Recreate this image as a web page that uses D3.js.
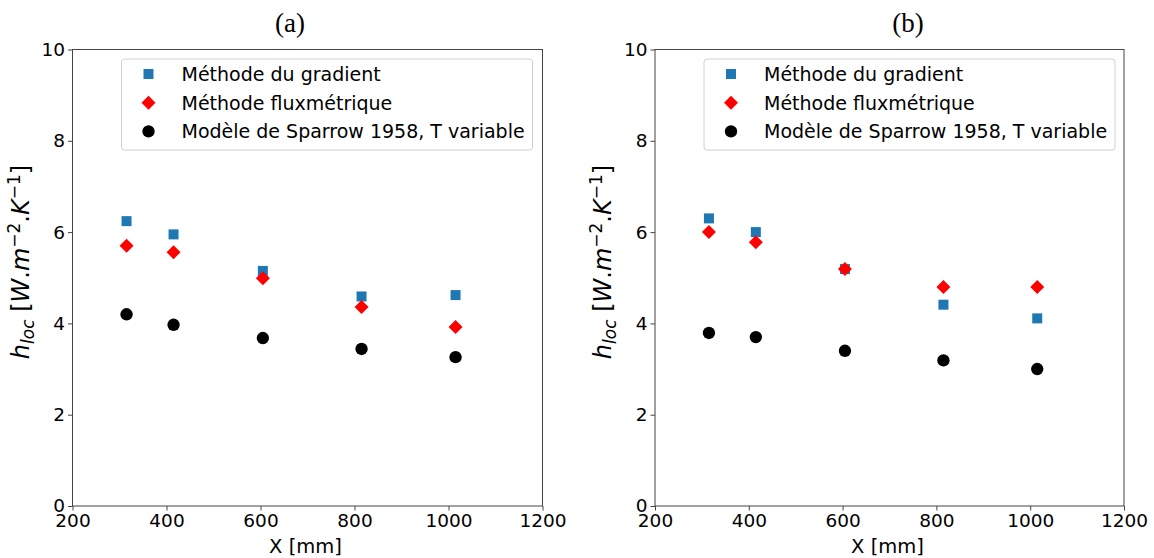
<!DOCTYPE html>
<html><head><meta charset="utf-8">
<script src="https://cdn.jsdelivr.net/npm/d3@7"></script>
<style>body{margin:0;background:#fff} svg{display:block}</style>
</head><body><svg id="c" width="1154" height="558"></svg>
<script>
const xPositions = [315, 415, 605, 815, 1015];
const gradientA = [6.24, 5.95, 5.15, 4.59, 4.62];
const fluxA = [5.70, 5.56, 4.99, 4.36, 3.92];
const sparrowA = [4.20, 3.97, 3.68, 3.44, 3.26];
const gradientB = [6.30, 6.00, 5.19, 4.41, 4.11];
const fluxB = [6.00, 5.78, 5.19, 4.80, 4.80];
const sparrowB = [3.79, 3.70, 3.40, 3.19, 3.00];
const xTicks = [200, 400, 600, 800, 1000, 1200];
const yTicks = [0, 2, 4, 6, 8, 10];
const legendLabels = ["Méthode du gradient", "Méthode fluxmétrique", "Modèle de Sparrow 1958, T variable"];
const panelTitles = ["(a)", "(b)"];
const xLabel = "X [mm]";

const svg = d3.select("#c");
const FONT = "DejaVu Sans, sans-serif";
const colors = ["#1f77b4", "#ff0000", "#000000"];
const symbols = [
  d3.symbol().type(d3.symbolSquare).size(100)(),
  d3.symbol().type(d3.symbolSquare).size(98)(),
  d3.symbol().type(d3.symbolCircle).size(120)()
];
const rot = [0, 45, 0];

const panels = [
  {x0: 72.5, x1: 542.5, title: panelTitles[0], titleX: 290, series: [gradientA, fluxA, sparrowA]},
  {x0: 655, x1: 1124, title: panelTitles[1], titleX: 908, series: [gradientB, fluxB, sparrowB]}
];
const yTop = 49.5, yBot = 506;

panels.forEach(p => {
  const g = svg.append("g");
  const x = d3.scaleLinear().domain([200, 1200]).range([p.x0, p.x1]);
  const y = d3.scaleLinear().domain([0, 10]).range([yBot, yTop]);

  const xa = g.append("g").attr("transform", `translate(0,${yBot})`)
    .call(d3.axisBottom(x).tickValues(xTicks).tickSize(4.5).tickPadding(3).tickFormat(d3.format("d")));
  const ya = g.append("g").attr("transform", `translate(${p.x0},0)`)
    .call(d3.axisLeft(y).tickValues(yTicks).tickSize(4.5).tickPadding(3).tickFormat(d3.format("d")));
  [xa, ya].forEach(a => {
    a.select(".domain").remove();
    a.selectAll("line").attr("stroke", "#444");
    a.selectAll("text").attr("font-family", FONT).attr("font-size", 18.5).attr("fill", "#000");
  });
  g.append("rect").attr("x", p.x0).attr("y", yTop).attr("width", p.x1 - p.x0).attr("height", yBot - yTop)
    .attr("fill", "none").attr("stroke", "#444").attr("stroke-width", 1);

  // data
  p.series.forEach((s, si) => {
    g.append("g").selectAll("path").data(s).join("path")
      .attr("d", symbols[si])
      .attr("transform", (d, i) => `translate(${x(xPositions[i])},${y(d)}) rotate(${rot[si]})`)
      .attr("fill", colors[si]);
  });

  // legend
  const lx = p.x0 + 49, ly = 59;
  g.append("rect").attr("x", lx).attr("y", ly).attr("width", 411).attr("height", 91).attr("rx", 3)
    .attr("fill", "#fff").attr("fill-opacity", 0.8).attr("stroke", "#d0d0d0");
  legendLabels.forEach((t, i) => {
    const cy = 74 + i * 28.7;
    g.append("path").attr("d", symbols[i]).attr("fill", colors[i])
      .attr("transform", `translate(${lx + 27},${cy}) rotate(${rot[i]})`);
    g.append("text").attr("x", lx + 60).attr("y", cy + 7).attr("font-family", FONT).attr("font-size", 19)
      .text(t);
  });

  // x label
  g.append("text").attr("x", (p.x0 + p.x1) / 2 - 2).attr("y", 553).attr("text-anchor", "middle")
    .attr("font-family", FONT).attr("font-size", 19.5).text(xLabel);

  // title
  g.append("text").attr("x", p.titleX).attr("y", 32).attr("text-anchor", "middle")
    .attr("font-family", "Liberation Serif, serif").attr("font-size", 27).text(p.title);

  // y label
  const yl = g.append("text").attr("transform", `translate(${p.x0 - 44},262) rotate(-90)`)
    .attr("text-anchor", "middle").attr("font-family", FONT).attr("font-size", 24);
  yl.append("tspan").attr("font-style", "italic").text("h");
  yl.append("tspan").attr("font-style", "italic").attr("font-size", 17).attr("dy", 5).text("loc");
  yl.append("tspan").attr("dy", -5).text(" [");
  yl.append("tspan").attr("font-style", "italic").text("W");
  yl.append("tspan").text(".");
  yl.append("tspan").attr("font-style", "italic").text("m");
  yl.append("tspan").attr("font-size", 17).attr("dy", -9).text("−2");
  yl.append("tspan").attr("dy", 9).text(".");
  yl.append("tspan").attr("font-style", "italic").text("K");
  yl.append("tspan").attr("font-size", 17).attr("dy", -9).text("−1");
  yl.append("tspan").attr("dy", 9).text("]");
});
</script>
</body></html>
